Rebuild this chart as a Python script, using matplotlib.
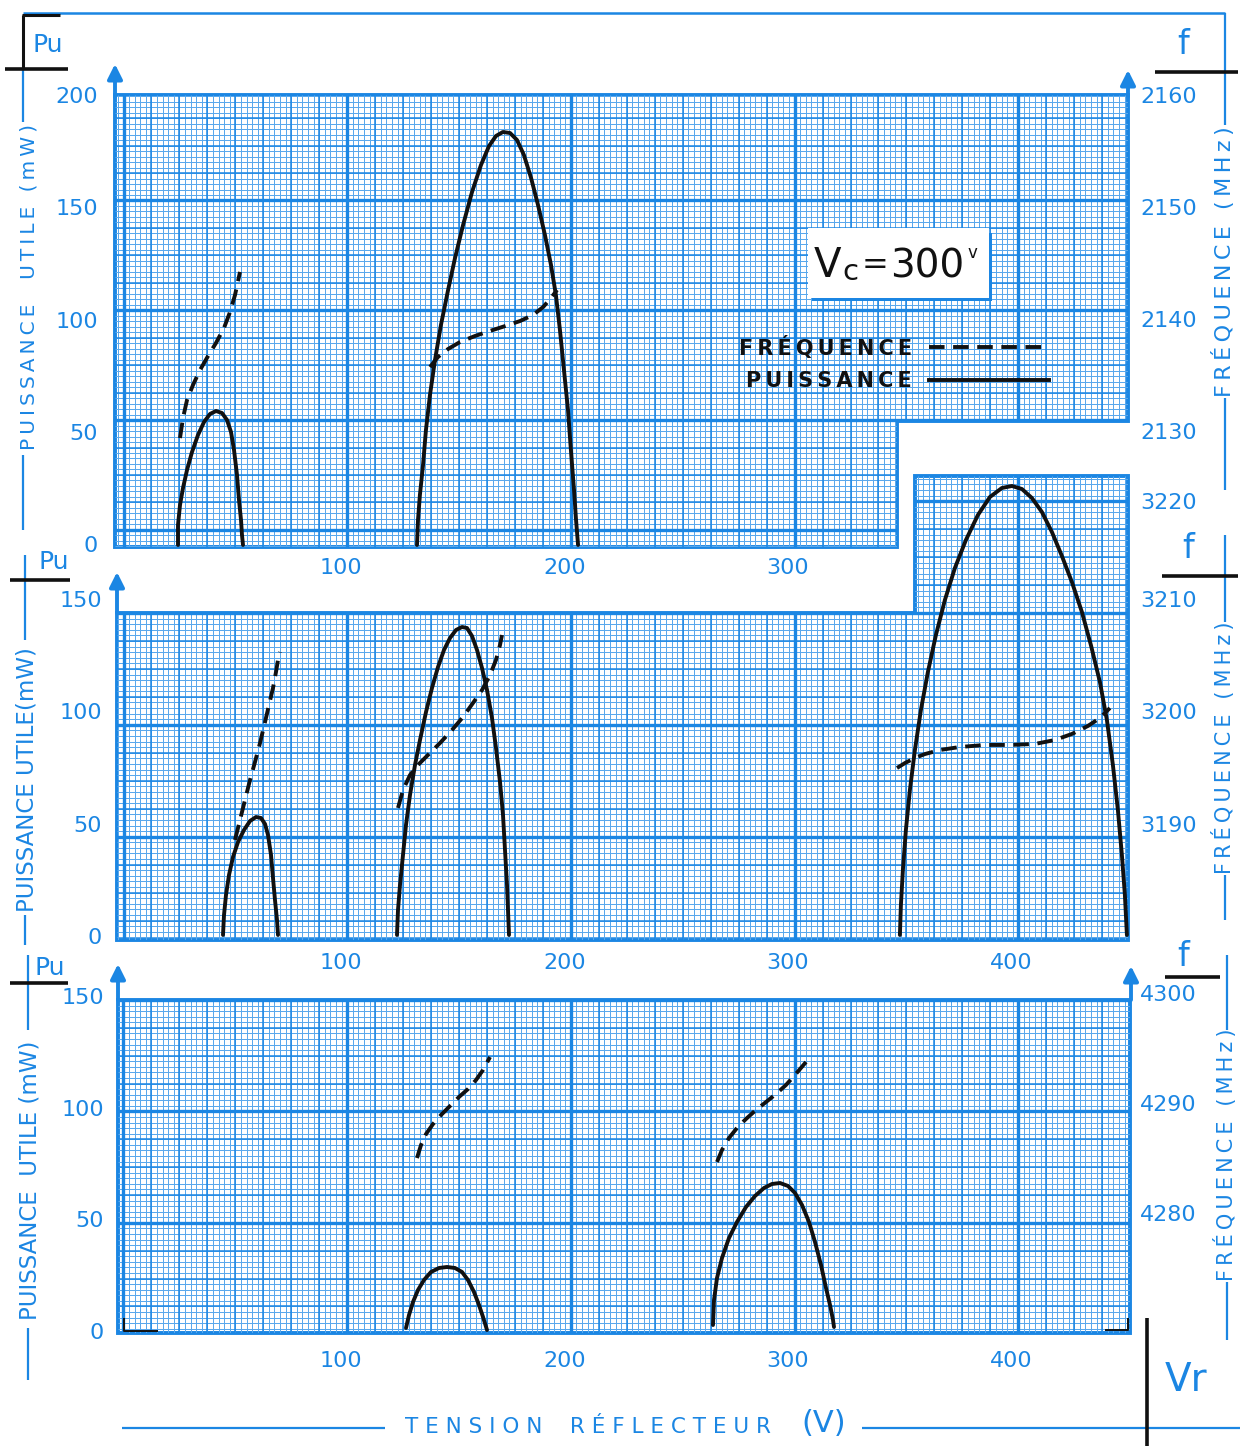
import matplotlib.pyplot as plt
import numpy as np
import matplotlib.transforms as mtransforms
from matplotlib.patches import Polygon, Rectangle
from matplotlib.collections import LineCollection
from matplotlib.lines import Line2D

BLUE = '#1b86e3'
FINE = '#5aa8ec'
INK = '#111111'
W, H = 1240, 1446

# ---- values ----
# x = tension reflecteur (V), p = puissance utile (mW), f = frequence (MHz)

# panel 1 (f ~ 2140 MHz)
m1a_v = [24.36, 24.36, 25.26, 26.6, 28.39, 30.62, 33.3, 35.99, 38.67, 41.35, 44.03,
         46.27, 48.06, 49.4, 50.74, 51.63, 52.53, 52.97, 53.42]
m1a_p = [0.45, 9.35, 18.26, 25.84, 33.85, 41.87, 49.44, 55.23, 58.8, 60.13, 59.24,
         56.12, 50.78, 42.76, 31.63, 20.49, 11.58, 4.9, 0.45]
m1b_v = [131.2, 131.65, 132.5, 133.9, 135.2, 137.0, 139.25, 141.9, 145.1, 148.2, 151.8,
         155.8, 159.8, 163.4, 166.5, 169.6, 172.8, 175.9, 179.0, 182.2, 185.3, 188.4,
         191.1, 193.3, 195.1, 196.9, 198.7, 200.0, 201.4, 202.3, 203.2]
m1b_p = [0.45, 11.58, 22.72, 36.08, 51.67, 67.26, 82.85, 98.44, 114.03, 128.29, 142.98,
         157.68, 169.71, 178.17, 182.63, 184.41, 183.96, 180.85, 174.16, 163.92, 151.89,
         138.53, 125.17, 111.8, 96.21, 78.4, 60.58, 42.76, 24.94, 11.58, 0.45]
f1a_v = [25.26, 26.6, 28.4, 31.07, 34.2, 37.78, 41.35, 44.93, 47.61, 49.85, 52.08]
f1a_f = [2129.55, 2131.34, 2132.95, 2134.29, 2135.62, 2136.87, 2138.04, 2139.38,
         2140.8, 2142.32, 2144.38]
f1b_v = [137.0, 140.6, 145.1, 150.4, 157.1, 163.8, 170.6, 177.3, 183.1, 187.6, 191.1, 193.8]
f1b_f = [2135.89, 2136.79, 2137.5, 2138.12, 2138.66, 2139.11, 2139.55, 2140.0,
         2140.54, 2141.25, 2142.05, 2142.77]

# panel 2 (f ~ 3200 MHz)
m2a_v = [44.48, 44.93, 45.82, 47.16, 48.95, 51.19, 53.87, 56.55, 59.23, 61.47, 63.26,
         64.6, 65.94, 66.83, 67.72, 68.62, 69.07]
m2a_p = [1.34, 10.24, 19.15, 28.05, 36.06, 42.74, 48.09, 52.09, 53.87, 53.43, 50.76,
         45.86, 36.95, 26.71, 16.92, 8.01, 1.34]
m2b_v = [122.26, 122.71, 123.6, 124.94, 126.28, 128.07, 130.31, 132.54, 135.23, 137.9,
         140.59, 143.27, 145.95, 148.64, 151.32, 153.55, 155.79, 158.03, 160.26, 162.5,
         164.73, 166.52, 168.31, 169.65, 170.54, 171.44, 171.88, 172.33]
m2b_p = [1.34, 12.47, 23.6, 36.95, 50.31, 63.67, 77.03, 88.16, 100.62, 111.31, 120.66,
         128.23, 133.57, 137.13, 138.47, 138.02, 134.46, 128.23, 120.21, 110.42, 97.95,
         84.6, 69.46, 54.76, 39.18, 23.6, 12.47, 1.34]
m2c_v = [347.07, 347.52, 348.41, 349.75, 351.54, 353.78, 356.46, 359.59, 363.17, 367.19,
         371.66, 376.58, 381.94, 387.31, 392.67, 397.14, 401.61, 406.08, 410.55, 415.02,
         419.49, 423.96, 428.43, 432.45, 436.48, 439.61, 442.29, 444.52, 446.31, 447.65,
         448.55]
m2c_p = [1.34, 14.69, 30.28, 48.09, 65.89, 83.7, 101.51, 118.43, 134.9, 150.49, 164.74,
         177.2, 188.33, 196.35, 200.36, 201.25, 199.91, 195.9, 189.67, 180.77, 170.08,
         158.5, 145.15, 130.45, 113.98, 97.06, 77.03, 56.99, 36.95, 19.15, 1.34]
f2a_v = [49.84, 52.08, 54.31, 56.55, 58.78, 61.02, 63.26, 65.04, 66.83, 68.17, 69.07, 69.96]
f2a_f = [3188.73, 3190.51, 3192.29, 3194.07, 3195.67, 3197.36, 3199.23, 3200.75,
         3202.26, 3203.69, 3204.76, 3205.47]
f2b_v = [122.71, 124.94, 128.07, 131.65, 136.12, 141.48, 146.85, 151.77, 156.24, 160.26,
         163.84, 166.52, 168.31, 169.2]
f2b_f = [3191.58, 3193.18, 3194.51, 3195.41, 3196.3, 3197.36, 3198.52, 3199.68, 3200.93,
         3202.08, 3203.42, 3204.76, 3206.09, 3206.98]
f2c_v = [345.78, 349.35, 353.78, 358.26, 364.97, 373.91, 385.09, 396.29, 407.42, 416.36,
         423.96, 431.11, 436.48, 440.95]
f2c_f = [3195.14, 3195.58, 3196.03, 3196.38, 3196.74, 3197.01, 3197.19, 3197.19, 3197.28,
         3197.63, 3198.17, 3198.88, 3199.59, 3200.48]

# panel 3 (f ~ 4290 MHz)
m3a_v = [126.28, 127.63, 129.41, 131.65, 134.33, 137.46, 141.04, 144.61, 148.19, 151.32,
         154.0, 156.68, 158.92, 160.71, 162.5]
m3a_p = [2.24, 8.06, 13.88, 19.26, 23.73, 27.32, 29.11, 29.56, 29.11, 27.32, 23.73,
         18.36, 12.54, 7.17, 1.34]
m3b_v = [263.52, 263.97, 265.31, 267.54, 270.67, 274.25, 278.27, 282.3, 286.32, 289.9,
         293.47, 297.05, 300.18, 303.31, 306.44, 309.12, 311.8, 314.04, 315.83, 317.17,
         317.61]
m3b_p = [3.58, 14.78, 24.63, 33.59, 42.54, 49.71, 56.43, 61.35, 64.94, 66.73, 67.17,
         65.85, 62.7, 57.32, 49.71, 40.75, 30.45, 20.15, 12.54, 5.82, 2.69]
f3a_v = [131.2, 132.99, 135.23, 138.36, 141.94, 145.95, 149.98, 154.0, 157.58, 160.71, 163.84]
f3a_f = [4285.18, 4286.36, 4287.36, 4288.27, 4289.09, 4289.91, 4290.73, 4291.45,
         4292.27, 4293.18, 4294.36]
f3b_v = [265.31, 267.54, 270.67, 274.25, 278.27, 282.74, 287.21, 291.68, 296.15, 300.18, 305.1]
f3b_f = [4284.82, 4285.91, 4287.0, 4287.91, 4288.73, 4289.55, 4290.27, 4291.0,
         4291.82, 4292.73, 4293.91]

x_ticks = [100, 200, 300, 400]
p_ticks_1 = [0, 50, 100, 150, 200]
p_ticks_23 = [0, 50, 100, 150]
f_ticks_1 = [2130, 2140, 2150, 2160]
f_ticks_2 = [3190, 3200, 3210]
f_ticks_3 = [4280, 4290, 4300]

# ---- layout ----
X0, XS = 123.5, 2.237   # pixel of 0 V, pixels per volt

fig = plt.figure(figsize=(12.4, 14.46), dpi=100)
fig.patch.set_facecolor('white')
over = fig.add_axes([0, 0, 1, 1])
over.set_xlim(0, W)
over.set_ylim(H, 0)
over.axis('off')
over.set_zorder(10)
over.patch.set_alpha(0)

FONT = 'DejaVu Sans'
TS = '\u2009'


def spaced(s):
    return TS.join(s)


def make_panel(box, p0, pscale, fref):
    l, t, r, b = box
    ax = fig.add_axes([l / W, 1 - b / H, (r - l) / W, (b - t) / H])
    ax.set_xlim((l - X0) / XS, (r - X0) / XS)
    ax.set_ylim((p0 - b) / pscale, (p0 - t) / pscale)
    ax.axis('off')
    tw = ax.twinx()
    f, fy, fs = fref
    tw.set_ylim(f - (b - fy) / fs, f - (t - fy) / fs)
    tw.axis('off')
    return ax, tw


def graph_paper(ax, outline, heavy0, step):
    x0, x1 = ax.get_xlim()
    y0, y1 = ax.get_ylim()
    clip = Polygon(outline, closed=True, transform=ax.transData)
    for sx, sy, lw, col in [(2.5, step / 20, 0.72, FINE), (12.5, step / 4, 1.1, BLUE),
                            (100, step, 2.4, BLUE)]:
        xs = np.arange(np.ceil(x0 / sx) * sx, x1, sx)
        ks = np.arange(np.ceil((y0 - heavy0) / sy), np.floor((y1 - heavy0) / sy) + 1)
        ys = heavy0 + sy * ks
        segs = [[(x, y0), (x, y1)] for x in xs] + [[(x0, y), (x1, y)] for y in ys]
        lc = LineCollection(segs, colors=col, linewidths=lw)
        lc.set_snap(True)
        ax.add_collection(lc)
        lc.set_clip_path(clip)
    ax.add_patch(Polygon(outline, closed=True, fill=False, edgecolor=BLUE, lw=2.8,
                         joinstyle='miter', clip_on=False))


def curves(ax, tw, solids, dashed):
    for v, p in solids:
        ax.plot(v, p, color=INK, lw=2.8, solid_capstyle='round', solid_joinstyle='round',
                clip_on=False)
    for v, f in dashed:
        tw.plot(v, f, color=INK, lw=2.8, linestyle=(0, (4, 2.2)), clip_on=False)


# panel 1
ax1, tw1 = make_panel((115, 95, 1128, 547), 546, 2.245, (2160, 97, 11.2))
xa, xb = ax1.get_xlim(); ya, yb = ax1.get_ylim()
graph_paper(ax1, [(xa, ya), (xa, yb), (xb, yb), (xb, 55.7), (345.8, 55.7), (345.8, ya)], 56.1, 48.9)
curves(ax1, tw1, [(m1a_v, m1a_p), (m1b_v, m1b_p)], [(f1a_v, f1a_f), (f1b_v, f1b_f)])

# panel 2
ax2, tw2 = make_panel((117, 476, 1128, 940), 938, 2.246, (3200, 713.4, 11.23))
xa, xb = ax2.get_xlim(); ya, yb = ax2.get_ylim()
graph_paper(ax2, [(xa, ya), (xa, 144.7), (353.8, 144.7), (353.8, yb), (xb, yb), (xb, ya)], 45.1, 49.8)
curves(ax2, tw2, [(m2a_v, m2a_p), (m2b_v, m2b_p), (m2c_v, m2c_p)],
       [(f2a_v, f2a_f), (f2b_v, f2b_f), (f2c_v, f2c_f)])

# panel 3
ax3, tw3 = make_panel((118, 1000, 1130, 1333), 1333, 2.233, (4300, 995, 11.0))
xa, xb = ax3.get_xlim(); ya, yb = ax3.get_ylim()
graph_paper(ax3, [(xa, ya), (xa, yb), (xb, yb), (xb, ya)], 49.3, 49.9)
curves(ax3, tw3, [(m3a_v, m3a_p), (m3b_v, m3b_p)], [(f3a_v, f3a_f), (f3b_v, f3b_f)])


# ---- tick labels ----
def ylabels(ax, vals, xpx, ha):
    tr = mtransforms.blended_transform_factory(over.transData, ax.transData)
    for v in vals:
        over.text(xpx, v, str(v), transform=tr, ha=ha, va='center', color=BLUE,
                  fontsize=16, family=FONT)


def xlabels(ax, ypx, vals):
    tr = mtransforms.blended_transform_factory(ax.transData, over.transData)
    for v in vals:
        over.text(v - 3, ypx, str(v), transform=tr, ha='center', va='center',
                  color=BLUE, fontsize=16, family=FONT)


ylabels(ax1, p_ticks_1, 98, 'right')
ylabels(ax2, p_ticks_23, 102, 'right')
ylabels(ax3, p_ticks_23, 104, 'right')
ylabels(tw1, f_ticks_1, 1140, 'left')
ylabels(tw2, f_ticks_2, 1140, 'left')
ylabels(tw3, f_ticks_3, 1140, 'left')
over.text(1140, 503, '3220', ha='left', va='center', color=BLUE, fontsize=16, family=FONT)
xlabels(ax1, 568, x_ticks[:3])
xlabels(ax2, 963, x_ticks)
xlabels(ax3, 1361, x_ticks)

# ---- axis arrows ----
for x, y0, y1 in [(115, 97, 64), (1128, 97, 70), (117, 613, 572), (118, 1000, 964), (1131, 1000, 966)]:
    over.annotate('', xy=(x, y1), xytext=(x, y0),
                  arrowprops=dict(arrowstyle='-|>', color=BLUE, lw=2.8, mutation_scale=22,
                                  shrinkA=0, shrinkB=0))


# ---- side titles ----
def bl(xs, ys, c=BLUE, lw=1.6):
    over.plot(xs, ys, color=c, lw=lw, solid_capstyle='butt')


side = dict(rotation=90, ha='center', va='center', color=BLUE, family=FONT)
over.text(29, 287, spaced('PUISSANCE  UTILE (mW)'), fontsize=14.5, **side)
over.text(27, 780, 'PUISSANCE UTILE(mW)', fontsize=16.5, **side)
over.text(30, 1180, 'PUISSANCE  UTILE (mW)', fontsize=16.5, **side)
over.text(1223, 262, spaced('FRÉQUENCE (MHz)'), fontsize=16, **side)
over.text(1223, 748, spaced('FRÉQUENCE (MHz)'), fontsize=15, **side)
over.text(1226, 1155, spaced('FRÉQUENCE (MHz)'), fontsize=15, **side)

bl([23, 1225], [13, 13], lw=1.8)
bl([23, 23], [69, 122]); bl([23, 23], [455, 530])
bl([25, 25], [555, 640]); bl([25, 25], [915, 945])
bl([28, 28], [955, 1030]); bl([28, 28], [1328, 1380])
bl([1225, 1225], [13, 125]); bl([1225, 1225], [398, 490])
bl([1225, 1225], [535, 622]); bl([1225, 1225], [875, 920])
bl([1227, 1227], [955, 1030]); bl([1227, 1227], [1282, 1340])
bl([23, 23], [15, 69], INK, 2.2); bl([22, 60], [15, 15], INK, 2.2); bl([5, 68], [69, 69], INK, 2.6)
bl([10, 70], [580, 580], INK, 2.6)
bl([10, 68], [983, 983], INK, 2.6)
bl([1155, 1238], [72, 72], INK, 2.6)
bl([1162, 1238], [576, 576], INK, 2.6)
bl([1165, 1220], [977, 977], INK, 2.6)
bl([124, 124, 158], [1318, 1331, 1331], INK, 1.4)
bl([1105, 1128, 1128], [1330, 1330, 1318], INK, 1.4)

for x, y, s in [(48, 45, 'Pu'), (54, 562, 'Pu'), (50, 968, 'Pu')]:
    over.text(x, y, s, ha='center', va='center', color=BLUE, fontsize=18, family=FONT)
for x, y in [(1183, 44), (1188, 549), (1183, 957)]:
    over.text(x, y, 'f', ha='center', va='center', color=BLUE, fontsize=24, family=FONT)

# bottom title
bl([122, 385], [1428, 1428]); bl([862, 1240], [1428, 1428])
over.text(405, 1427, 'T E N S I O N    R É F L E C T E U R', ha='left', va='center',
          color=BLUE, fontsize=15.5, family=FONT)
over.text(824, 1424, '(V)', ha='center', va='center', color=BLUE, fontsize=22, family=FONT)
over.text(1186, 1380, 'Vr', ha='center', va='center', color=BLUE, fontsize=28, family=FONT)
bl([1147, 1147], [1318, 1446], INK, 2.6)

# ---- Vc box ----
over.add_patch(Rectangle((812, 233), 180, 68, facecolor=BLUE, edgecolor='none'))
over.add_patch(Rectangle((808, 228), 181, 70, facecolor='white', edgecolor='none'))
over.text(814, 266, 'V', ha='left', va='center', color=INK, fontsize=29, family=FONT)
over.text(842, 272, 'c', ha='left', va='center', color=INK, fontsize=21, family=FONT)
over.text(862, 266, '=', ha='left', va='center', color=INK, fontsize=23, family=FONT)
over.text(890, 266, '300', ha='left', va='center', color=INK, fontsize=28, family=FONT)
over.text(967, 253, 'v', ha='left', va='center', color=INK, fontsize=12, family=FONT)

# ---- legend ----
h_f = Line2D([], [], color=INK, lw=2.8, linestyle=(0, (4, 2.2)))
h_p = Line2D([], [], color=INK, lw=2.8)
leg = over.legend([h_f, h_p], [spaced('FRÉQUENCE'), spaced('PUISSANCE')], markerfirst=False,
                  frameon=False, loc='upper left', bbox_to_anchor=(720, 317),
                  bbox_transform=over.transData, handlelength=5.8, handletextpad=0.8,
                  labelspacing=0.6, prop=dict(family=FONT, weight='bold', size=15))
for t in leg.get_texts():
    t.set_color(INK)

fig.savefig('out.png', dpi=100, facecolor='white')
